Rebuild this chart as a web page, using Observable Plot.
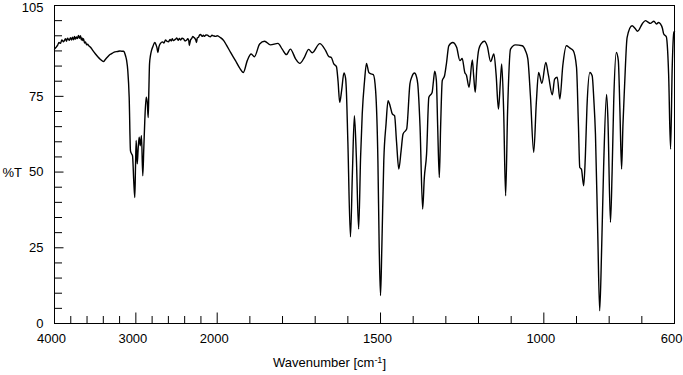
<!DOCTYPE html>
<html><head><meta charset="utf-8">
<script src="https://cdn.jsdelivr.net/npm/d3@7"></script>
<script src="https://cdn.jsdelivr.net/npm/@observablehq/plot@0.6"></script>
<style>body{margin:0;background:#fff}</style>
</head><body><div id="chart"></div>
<script>
const wavenumber = [4000,3980,3963,3945,3926,3910,3889,3865,3852,3840,3820,3803,3790,3779,3765,3754,3742,3730,3718,3705,3692,3680,3670,3662,3650,3644,3630,3619,3605,3594,3575,3557,3530,3496,3465,3435,3398,3375,3348,3318,3287,3256,3226,3195,3168,3150,3140,3127,3113,3099,3082,3066,3052,3041,3025,3013,3004,2996,2983,2971,2959,2946,2931,2915,2902,2890,2873,2860,2848,2840,2832,2820,2808,2790,2767,2752,2740,2730,2715,2697,2672,2655,2635,2618,2599,2580,2565,2553,2538,2525,2510,2497,2480,2465,2451,2432,2414,2395,2377,2362,2349,2343,2337,2325,2316,2300,2288,2270,2262,2254,2245,2230,2215,2205,2185,2170,2156,2138,2119,2100,2082,2064,2045,2020,2000,
1990,1980,1972,1959,1944,1932,1920,1908,1896,1886,1870,1855,1837,1814,1801,1788,1776,1760,1747,1733,1720,1709,1686,1668,1658,1651,1643,1635,1630,1625,1619,1612,1607,1605,1600,1592,1586,1580,1574,1567,1561,1556,1549,1543,1536,1531,1522,1515,1508,1504,1500,1496,1490,1483,1477,1471,1464,1457,1451,1444,1437,1431,1420,1410,1404,1396,1390,1386,1379,1371,1366,1359,1352,1342,1338,1334,1329,1325,1320,1316,1311,1304,1298,1291,1279,1267,1257,1250,1242,1237,1229,1219,1215,1210,1205,1199,1191,1182,1173,1163,1153,1146,1139,1133,1129,1123,1117,1111,1102,1087,1066,1056,1049,1041,1031,1023,1016,1006,994,986,974,967,959,951,942,931,921,910,900,894,890,885,878,873,868,859,852,847,842,835,829,823,817,808,804,796,791,786,778,772,767,762,758,753,745,730,721,713,699,689,681,674,663,655,649,643,637,633,625,621,618,612,607,602,600];
const transmittance = [90.6,91.2,91.8,92.8,92.5,93.6,93.0,94.0,93.2,94.2,93.5,94.4,93.6,94.5,93.7,94.8,93.9,94.6,94.1,95.1,94.2,95.0,93.6,94.3,93.4,94.0,92.6,93.0,92.0,92.2,91.6,91.2,90.2,89.0,88.0,87.2,86.5,87.2,88.0,88.8,89.3,89.7,89.8,90.0,89.9,89.9,89.5,88.4,86.8,83.5,74.7,57,56,55.4,46.6,41.6,52,60.4,52.7,58,61.5,58.7,62,48.8,58,67,74.7,73,68,77,85.7,88.5,90.1,91.5,92.8,92.0,91.0,89.5,91.5,92.5,93.0,92.6,93.6,93.2,93.0,93.8,93.3,94.0,93.4,93.6,93.9,94.3,93.5,94.1,93.6,94.2,94.0,93.3,93.5,94.0,93.4,91.8,92.5,93.8,94.0,94.8,94.5,94.0,93.5,92.8,94.3,94.5,95.3,95.4,94.8,95.2,94.8,95.3,95.2,94.8,94.7,95.2,95.0,94.8,95.0,
94.4,93.4,92.0,89.5,86.8,84.5,82.9,86.8,89,88.1,92.3,93.2,92,92.5,90.6,88.8,90.6,87.4,85.9,87.9,90.5,89.4,92.4,90.1,88.1,87.9,85.7,84.8,80,73,77,82.7,81,78,60,28.6,50,68.6,55,31.2,55,69.2,80,85.9,82.9,82.5,82.2,76.9,53.7,25,9.2,25,53.7,66,73.6,72,69.2,68.6,60,51,57,62.6,64.2,79.1,81.5,82.7,81.5,79.1,65,37.8,48,56,74.7,76.3,80,83.3,80.2,65,48.2,65,80.2,81.8,86,91.7,92.8,91.2,86.8,87.5,82.9,82,78,87,82,76.3,85,90.6,92.5,93.2,91.5,86.5,89,82,70.8,80,85.7,70,42.2,70,90.6,92,91.7,90,87.4,75,56.5,73,82.9,79.3,86.2,82,75.5,80.7,81.3,74.1,85.1,91.7,91.0,90.1,84.6,65,51.5,51,45.5,55,71.4,82.9,81.8,74,62.6,30,4.2,25,51.5,75.6,68,33.4,50,73.6,89.5,86.8,70,51,65,78,94.5,98.3,97.5,96.5,98.9,100,99.5,99.1,99.8,98.9,99.4,98.9,97.5,95.6,94.7,90,82.4,57.6,84.6,96.1,96.5];

const xLabelTicks = [4000, 3000, 2000, 1500, 1000];
const xEndLabel = [600];
const xMajorTicks = [3000, 2000, 1500, 1000];
const xMinorTicks = [3800, 3600, 3400, 3200, 2800, 2600, 2400, 2200, 1900, 1800, 1700, 1600, 1400, 1300, 1200, 1100, 900, 800, 700];
const yLabelTicks = [0, 25, 50, 75];
const yTopLabel = [105];
const yMajorTicks = [25, 50, 75];
const yMinorTicks = [5, 10, 15, 20, 30, 35, 40, 45, 55, 60, 65, 70, 80, 85, 90, 95, 100];
const yTitle = "%T";
const xTitle = "Wavenumber [cm-1]";

const spectrum = wavenumber.map((w, i) => ({w, t: transmittance[i]}));

const chart = Plot.plot({
  width: 683, height: 375,
  marginLeft: 54, marginRight: 9, marginTop: 5, marginBottom: 52,
  style: {fontFamily: "'Liberation Sans', Arial, sans-serif", fontSize: "13px", background: "#fff", color: "#000"},
  x: {type: "linear", domain: [4000, 2000, 600], range: [54, 216.7, 674]},
  y: {type: "linear", domain: [0, 105]},
  marks: [
    Plot.axisX(xMinorTicks, {anchor: "bottom", tickSize: -7, fill: "none", label: null}),
    Plot.axisX(xMajorTicks, {anchor: "bottom", tickSize: -10.5, fill: "none", label: null}),
    Plot.axisX(xLabelTicks, {anchor: "bottom", tickSize: 0, tickPadding: 10, dx: -3, fontSize: 13, tickFormat: d3.format("d"), label: null}),
    Plot.axisX(xEndLabel, {anchor: "bottom", tickSize: 0, tickPadding: 10, textAnchor: "end", dx: 8, fontSize: 13, tickFormat: d3.format("d"), label: null}),
    Plot.axisY(yMinorTicks, {anchor: "left", tickSize: -8, fill: "none", label: null}),
    Plot.axisY(yMajorTicks, {anchor: "left", tickSize: -9.5, fill: "none", label: null}),
    Plot.axisY(yLabelTicks, {anchor: "left", tickSize: 0, tickPadding: 11, fontSize: 13, label: null}),
    Plot.axisY(yTopLabel, {anchor: "left", tickSize: 0, tickPadding: 11, fontSize: 13, dy: 2, label: null}),
    Plot.line(spectrum, {x: "w", y: "t", stroke: "#000", strokeWidth: 1.4, curve: "monotone-x"}),
    Plot.frame({stroke: "#000", strokeWidth: 1}),
    Plot.text([yTitle], {frameAnchor: "left", dx: -52, dy: 8, textAnchor: "start", fontSize: 13}),
    Plot.text([xTitle], {frameAnchor: "bottom", dx: -35, dy: 43, fontSize: 13})
  ]
});
document.getElementById("chart").append(chart);

// superscript the "-1" in the x title
d3.select(chart).selectAll("text").filter(function () { return this.textContent === xTitle; })
  .each(function () {
    const t = d3.select(this);
    t.text("");
    t.append("tspan").text("Wavenumber [cm");
    t.append("tspan").attr("dy", "-0.4em").attr("font-size", 9).text("-1");
    t.append("tspan").attr("dy", "0.4em").text("]");
  });
</script>
</body></html>
